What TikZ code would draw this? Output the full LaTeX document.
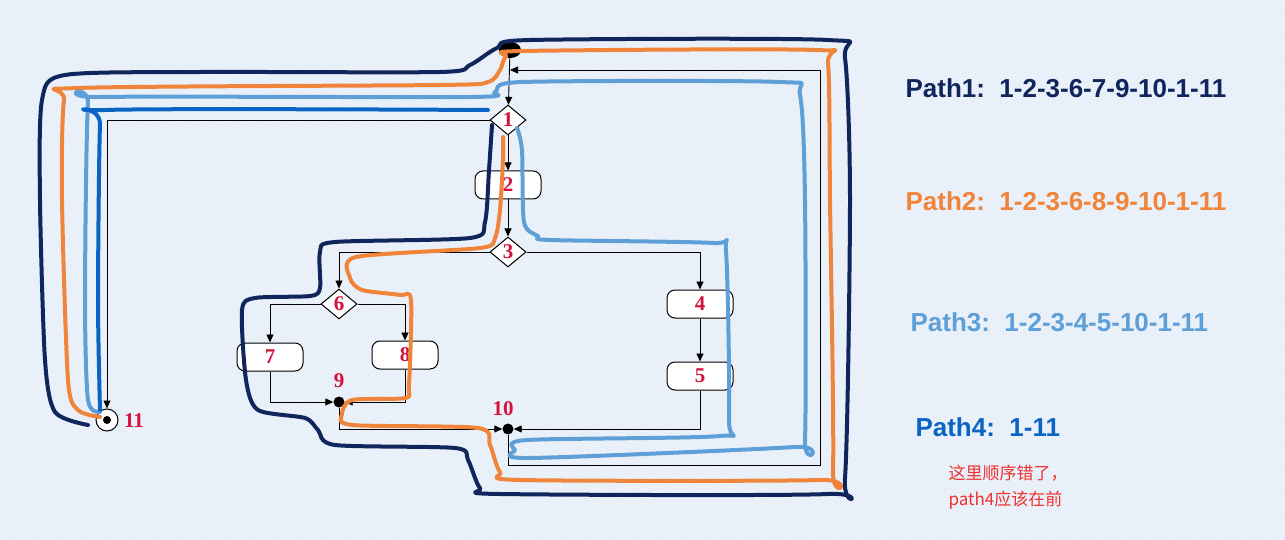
\documentclass[tikz,border=0pt]{standalone}
\usepackage{fontspec}
\setmainfont{Liberation Serif}
\newfontfamily\sans{Liberation Sans}
\newfontfamily\cjk{Noto Sans CJK SC}
\usetikzlibrary{shapes.geometric,arrows.meta,patterns}
\definecolor{bgc}{HTML}{F3F7FC}
\definecolor{hatch}{HTML}{D6E4F3}
\definecolor{pnavy}{HTML}{10255C}
\definecolor{porange}{HTML}{F0843A}
\definecolor{plight}{HTML}{5F9FD8}
\definecolor{pblue}{HTML}{0A64C4}
\definecolor{numred}{HTML}{D4123C}
\definecolor{cnred}{HTML}{F0302E}
\begin{document}
\begin{tikzpicture}[x=1pt,y=-1pt,
  num/.style={text=numred,font=\bfseries\fontsize{21}{21}\selectfont},
  dia/.style={diamond,draw,line width=1pt,fill=white,aspect=1.2,inner sep=0pt,minimum width=36pt,minimum height=30pt,num},
  box/.style={rounded corners=8pt,draw,line width=1pt,fill=white,minimum width=66pt,minimum height=28pt,num},
  flow/.style={draw,line width=0.9pt,-{Triangle[length=8pt,width=7pt]}},
  hand/.style={line width=4pt,line cap=round,line join=round,smooth,tension=0.45},
  lbl/.style={font=\sans\bfseries\fontsize{26}{26}\selectfont,anchor=west}]
\fill[bgc] (0,0) rectangle (1285,540);
\fill[pattern=north east lines,pattern color=hatch] (0,0) rectangle (1285,540);
\useasboundingbox (0,0) rectangle (1285,540);

% nodes
\node[ellipse,fill=black,minimum width=22pt,minimum height=16pt,inner sep=0pt] (s) at (510,50) {};
\node[dia] (n1) at (508,120) {1};
\node[box] (n2) at (508,185) {2};
\node[dia] (n3) at (508,252) {3};
\node[dia] (n6) at (339,304) {6};
\node[box] (n7) at (270,357) {7};
\node[box] (n8) at (405,355) {8};
\node[circle,fill=black,minimum size=11pt,inner sep=0pt] (n9) at (339,402) {};
\node[num] (l9) at (339,381) {9};
\node[box] (n4) at (700,304) {4};
\node[box] (n5) at (700,376) {5};
\node[circle,fill=black,minimum size=11pt,inner sep=0pt] (n10) at (508,429) {};
\node[num] (l10) at (503,409) {10};
\node[circle,draw,line width=1pt,fill=white,minimum size=22pt,inner sep=0pt] (n11) at (107,420) {};
\node[circle,fill=black,minimum size=8pt,inner sep=0pt] (c11) at (107,420) {};
\node[num] (l11) at (134,421) {11};
\coordinate (j1) at (510,70);

% flow edges
\draw[flow] (s) -- (n1);
\draw[flow] (n1) -- (n2);
\draw[flow] (n2) -- (n3);
\draw[flow] (n3.west) -| (n6.north);
\draw[flow] (n3.east) -| (n4.north);
\draw[flow] (n6.west) -| (n7.north);
\draw[flow] (n6.east) -| (n8.north);
\draw[flow] (n7.south) |- (n9.west);
\draw[flow] (n8.south) |- (n9.east);
\draw[flow] (n4) -- (n5);
\draw[flow] (n9.south) |- (n10.west);
\draw[flow] (n5.south) |- (n10.east);
\draw[flow] (n10.south) -- (508,465) -- (820,465) -- (820,70) -- (j1);
\draw[flow] (n1.west) -| (n11.north);

% hand-drawn paths
\draw[hand,pnavy] plot coordinates {(88,425)(55,412)(45,360)(40,200)(42,100)(65,75)(200,72)(440,72)(470,65)(497,48)(530,40)(828,40)(845,58)(850,200)(845,478)(828,494)(500,494)(480,488)(468,460)(455,448)(335,445)(318,430)(305,418)(258,410)(246,380)(242,310)(255,298)(310,296)(320,288)(320,252)(335,242)(470,238)(485,222)(489,170)(492,125)};
\draw[hand,porange] plot coordinates {(100,417)(78,410)(68,380)(62,200)(64,100)(78,88)(440,85)(488,82)(500,70)(506,56)(522,51)(815,50)(828,64)(830,200)(833,470)(820,480)(520,480)(500,472)(490,445)(478,428)(352,425)(342,414)(352,400)(405,398)(409,385)(411,300)(400,295)(362,290)(350,278)(356,257)(480,248)(495,238)(500,210)(503,160)(503,137)};
\draw[hand,plight] plot coordinates {(100,412)(88,400)(85,300)(88,105)(100,97)(470,97)(495,92)(522,82)(780,82)(800,95)(805,200)(805,440)(795,447)(530,458)(515,450)(527,440)(720,436)(729,420)(726,252)(713,243)(550,240)(538,236)(524,222)(522,150)(517,128)};
\draw[hand,pblue] plot coordinates {(100,410)(98,300)(100,125)(106,110)(488,110)};

% labels
\node[lbl,text=pnavy] (t1) at (902,88) {Path1:\ \ 1-2-3-6-7-9-10-1-11};
\node[lbl,text=porange] (t2) at (902,201) {Path2:\ \ 1-2-3-6-8-9-10-1-11};
\node[lbl,text=plight] (t3) at (907,322) {Path3:\ \ 1-2-3-4-5-10-1-11};
\node[lbl,text=pblue] (t4) at (912,427) {Path4:\ \ 1-11};
\node[anchor=west,text=cnred,font=\cjk\fontsize{17}{17}\selectfont] (c1) at (945,473) {这里顺序错了，};
\node[anchor=west,text=cnred,font=\cjk\fontsize{17}{17}\selectfont] (c2) at (945,500) {path4应该在前};
\end{tikzpicture}
\end{document}
